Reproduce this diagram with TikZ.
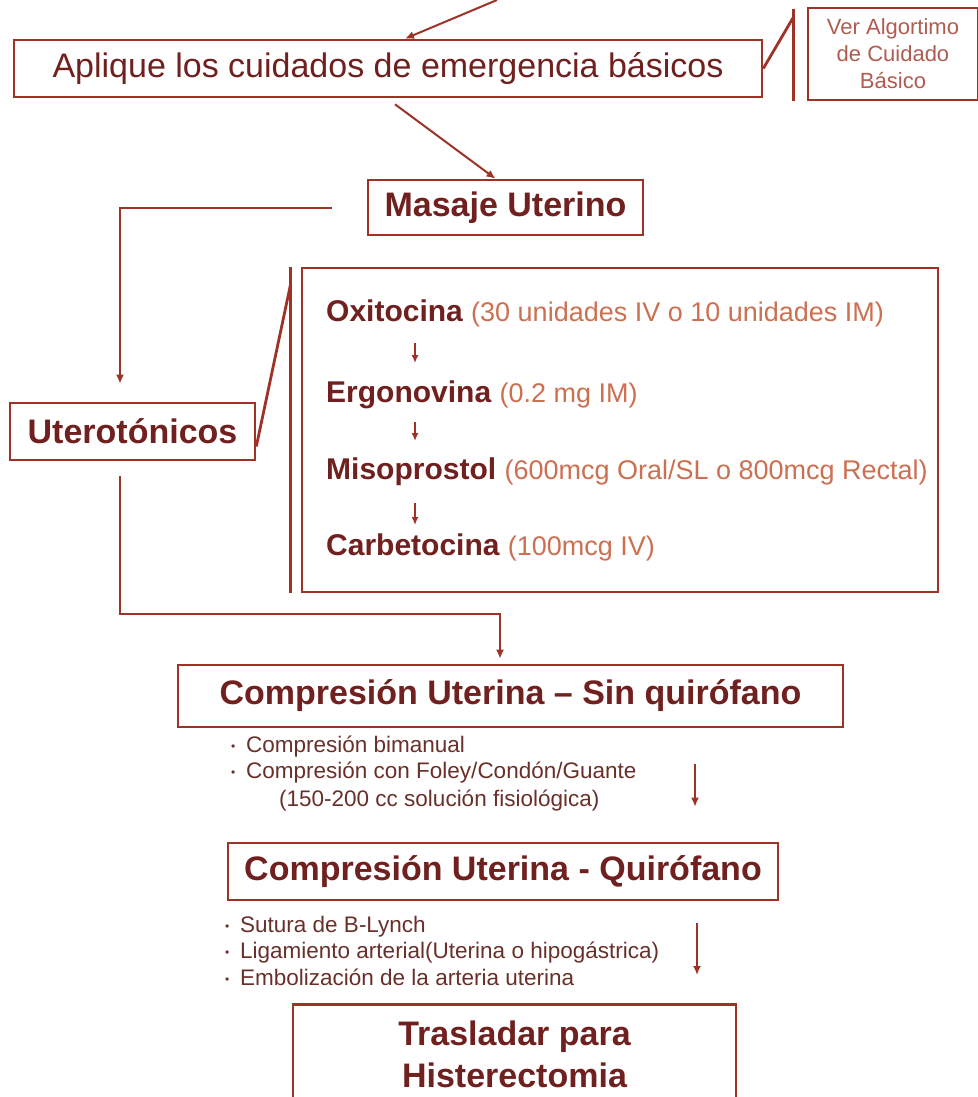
\documentclass[tikz,border=0pt]{standalone}
\usepackage{fontspec}
\usetikzlibrary{arrows.meta}
\setmainfont{Liberation Sans}

\definecolor{boxred}{RGB}{158,50,38}
\definecolor{titlered}{RGB}{112,32,30}
\definecolor{dosecol}{RGB}{204,112,82}
\definecolor{notecol}{RGB}{176,92,82}
\definecolor{listcol}{RGB}{105,48,42}

\newcommand{\dose}[1]{{\color{dosecol}\mdseries\fontsize{27}{32}\selectfont #1}}
\newcommand{\itm}{\makebox[15pt][l]{\raisebox{2pt}{\fontsize{12}{12}\selectfont •}}}

\begin{document}
\begin{tikzpicture}[x=1pt, y=-1pt, >={Latex[length=9pt, width=8pt]},
	every node/.style={text centered},
	box/.style={draw=boxred, line width=2.6pt, fill=white, inner sep=0pt},
	big/.style={font=\fontsize{34}{43}\selectfont\bfseries, text=titlered},
	med/.style={anchor=base west, inner sep=0pt, font=\fontsize{30}{36}\selectfont\bfseries, text=titlered},
	item/.style={anchor=base west, inner sep=0pt, font=\fontsize{22.5}{27}\selectfont, text=listcol},
	conn/.style={->, draw=boxred, line width=2pt},
	small/.style={-{Latex[length=8pt, width=7pt]}, draw=boxred, line width=1.8pt},
	brace/.style={draw=boxred, line width=2.8pt}]

	\useasboundingbox (0,0) rectangle (977,1097);

	\draw (388, 68.5)	node[box, minimum width=748, minimum height=57,%
		font=\fontsize{34}{40}\selectfont, text=titlered] (aplique)
			{Aplique los cuidados de emergencia básicos}

		(893, 54)	node[box, minimum width=170, minimum height=92, align=center,%
		font=\fontsize{22}{27}\selectfont, text=notecol] (ver)
			{Ver Algortimo\\de Cuidado\\Básico}

		(505.5, 207.5)	node[box, big, minimum width=275, minimum height=55] (masaje)
			{Masaje Uterino}

		(132.5, 431.5)	node[box, big, minimum width=245, minimum height=57] (utero)
			{Uterotónicos}

		(620, 430)	node[box, minimum width=636, minimum height=324] (meds) {}

		(510.5, 696)	node[box, big, minimum width=665, minimum height=62] (comp1)
			{Compresión Uterina – Sin quirófano}

		(503, 871.5)	node[box, big, minimum width=550, minimum height=57] (comp2)
			{Compresión Uterina - Quirófano}

		(514.5, 1003)	node[box, big, anchor=north, minimum width=443, minimum height=100,%
		align=center, font=\fontsize{34}{42}\selectfont\bfseries] (trasl)
			{Trasladar para\\Histerectomia}
	;

	% uterotonicos
	\draw (326, 321)	node[med] (oxi) {Oxitocina \dose{(30 unidades IV o 10 unidades IM)}}
		(326, 402)	node[med] (ergo) {Ergonovina \dose{(0.2 mg IM)}}
		(326, 479)	node[med] (miso) {Misoprostol \dose{(600mcg Oral/SL o 800mcg Rectal)}}
		(326, 555)	node[med] (carb) {Carbetocina \dose{(100mcg IV)}}
	;

	% compresion
	\draw (231, 752)	node[item] (bimanual) {\itm Compresión bimanual}
		(231, 778)	node[item] (foley) {\itm Compresión con Foley/Condón/Guante}
		(279, 806)	node[item] (suero) {(150-200 cc solución fisiológica)}

		(225, 932)	node[item] (lynch) {\itm Sutura de B-Lynch}
		(225, 958)	node[item] (ligam) {\itm Ligamiento arterial(Uterina o hipogástrica)}
		(225, 985)	node[item] (emboli) {\itm Embolización de la arteria uterina}
	;

	\coordinate (entrada) at (497, 0);
	\coordinate (col) at (415, 0);

	\draw[conn] (entrada) -- ([xshift=17pt]aplique.north);
	\draw[conn] ([xshift=7pt, yshift=-6pt]aplique.south) -- ([xshift=-10pt]masaje.north);
	\draw[conn] ([xshift=-35pt]masaje.west) -| ([xshift=-12.5pt, yshift=18pt]utero.north);
	\draw[conn] ([xshift=-12.5pt, yshift=-15pt]utero.south) |- ([xshift=-10.5pt, yshift=50pt]comp1.north)
		-- ([xshift=-10.5pt, yshift=5pt]comp1.north);
	\draw[conn] ([xshift=184.5pt, yshift=-36pt]comp1.south) -- ([xshift=192pt, yshift=35pt]comp2.north);
	\draw[conn] ([xshift=194pt, yshift=-22pt]comp2.south) -- ([xshift=182.5pt, yshift=28pt]trasl.north);

	\draw[brace] (aplique.east) -- ([xshift=-13pt, yshift=-10pt]ver.north west);
	\draw[brace] ([xshift=-13pt, yshift=-2pt]ver.north west) -- ([xshift=-13pt]ver.south west);
	\draw[brace] ([yshift=-15pt]utero.east) -- ([xshift=-10pt, yshift=-17pt]meds.north west);
	\draw[brace] ([xshift=-10pt]meds.north west) -- ([xshift=-10pt]meds.south west);

	\draw[small] ([yshift=-22pt]oxi.base -| col) -- ([yshift=39pt]ergo.base -| col);
	\draw[small] ([yshift=-20pt]ergo.base -| col) -- ([yshift=38pt]miso.base -| col);
	\draw[small] ([yshift=-24pt]miso.base -| col) -- ([yshift=30pt]carb.base -| col);
\end{tikzpicture}
\end{document}
